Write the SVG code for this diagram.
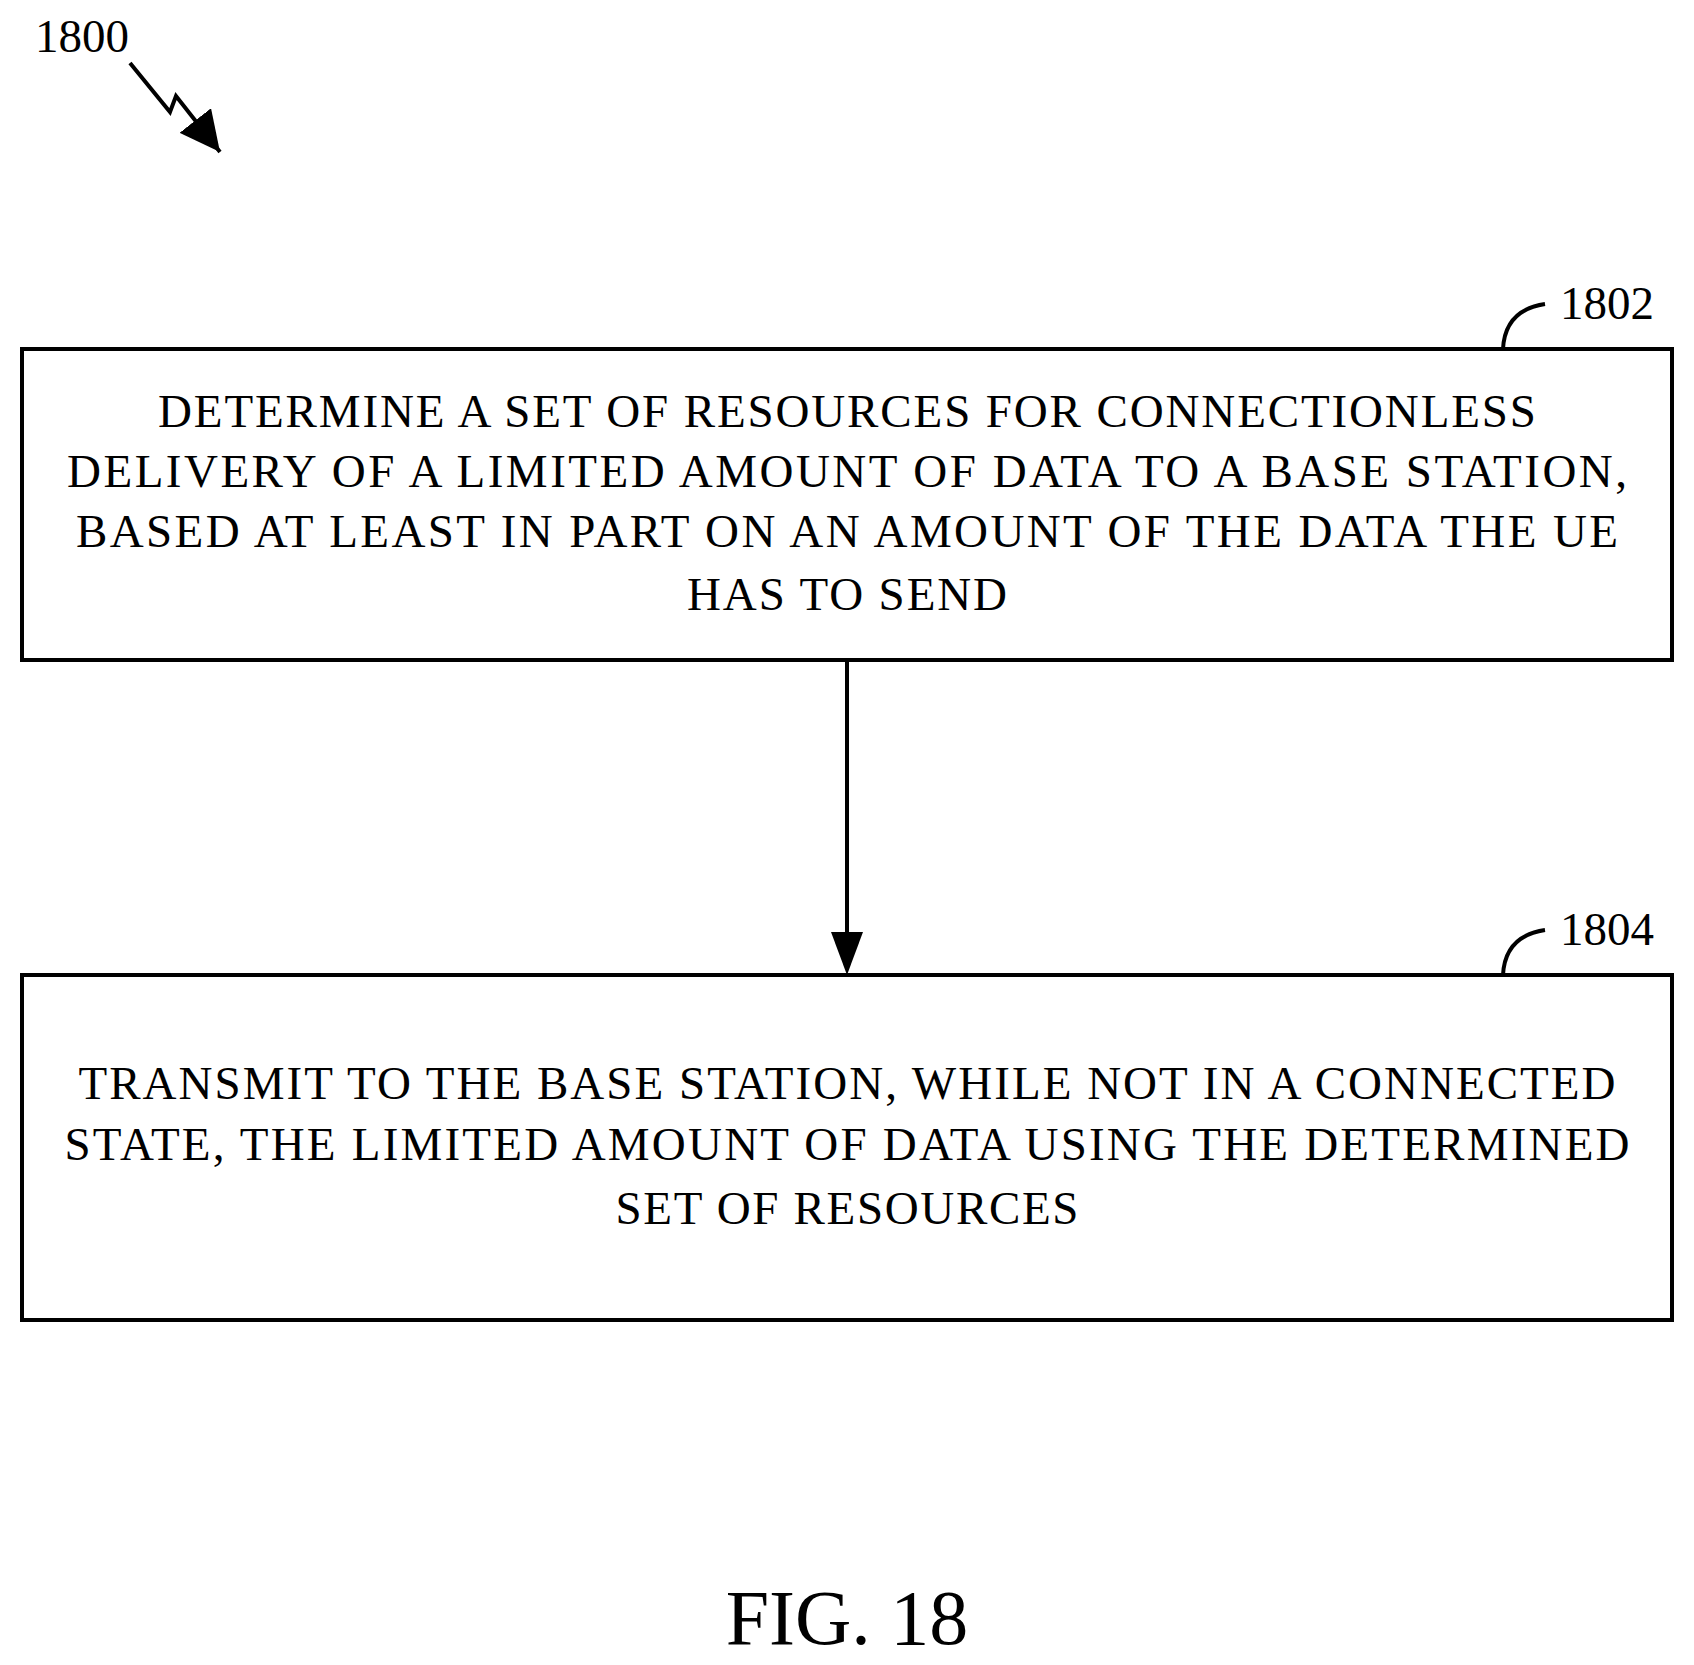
<svg xmlns="http://www.w3.org/2000/svg" width="1694" height="1665" viewBox="0 0 1694 1665">
<style>
text{font-family:"Liberation Serif","Times New Roman",serif;fill:#000}
.b{font-size:47px;text-anchor:middle}
.r{font-size:47px}
.box{fill:none;stroke:#000;stroke-width:4}
.ln{fill:none;stroke:#000;stroke-width:4}
</style>
<defs>
<marker id="a2" viewBox="0 0 10 10" refX="10" refY="5" markerWidth="40" markerHeight="40" markerUnits="userSpaceOnUse" orient="auto"><path d="M0,0 L10,5 L0,10 Z"/></marker></defs>
<g id="label1800">
<text class="r" x="35" y="52">1800</text>
<path class="ln" d="M130,63 L170,112 L176,96 L220,152" marker-end="url(#a2)"/>
</g>
<g id="n1802">
<rect class="box" x="22" y="349" width="1650" height="311"/>
<text class="b" x="847" y="427" textLength="1378" lengthAdjust="spacing">DETERMINE A SET OF RESOURCES FOR CONNECTIONLESS</text>
<text class="b" x="847" y="487" textLength="1560" lengthAdjust="spacing">DELIVERY OF A LIMITED AMOUNT OF DATA TO A BASE STATION,</text>
<text class="b" x="847" y="547" textLength="1542" lengthAdjust="spacing">BASED AT LEAST IN PART ON AN AMOUNT OF THE DATA THE UE</text>
<text class="b" x="847" y="610" textLength="320" lengthAdjust="spacing">HAS TO SEND</text>
<path class="ln" d="M1503,349 Q1505,310 1545,304"/>
<text class="r" x="1560" y="319">1802</text>
</g>
<g id="n1804">
<rect class="box" x="22" y="975" width="1650" height="345"/>
<text class="b" x="847" y="1099" textLength="1537" lengthAdjust="spacing">TRANSMIT TO THE BASE STATION, WHILE NOT IN A CONNECTED</text>
<text class="b" x="847" y="1160" textLength="1565" lengthAdjust="spacing">STATE, THE LIMITED AMOUNT OF DATA USING THE DETERMINED</text>
<text class="b" x="847" y="1224" textLength="463" lengthAdjust="spacing">SET OF RESOURCES</text>
<path class="ln" d="M1503,975 Q1505,936 1545,930"/>
<text class="r" x="1560" y="945">1804</text>
</g>
<g id="connectors">
<line x1="847" y1="660" x2="847" y2="940" stroke="#000" stroke-width="4"/>
<path d="M831,932 L863,932 L847,975 Z"/>
</g>
<text x="847" y="1644" style="font-size:78px;text-anchor:middle">FIG. 18</text>
</svg>
